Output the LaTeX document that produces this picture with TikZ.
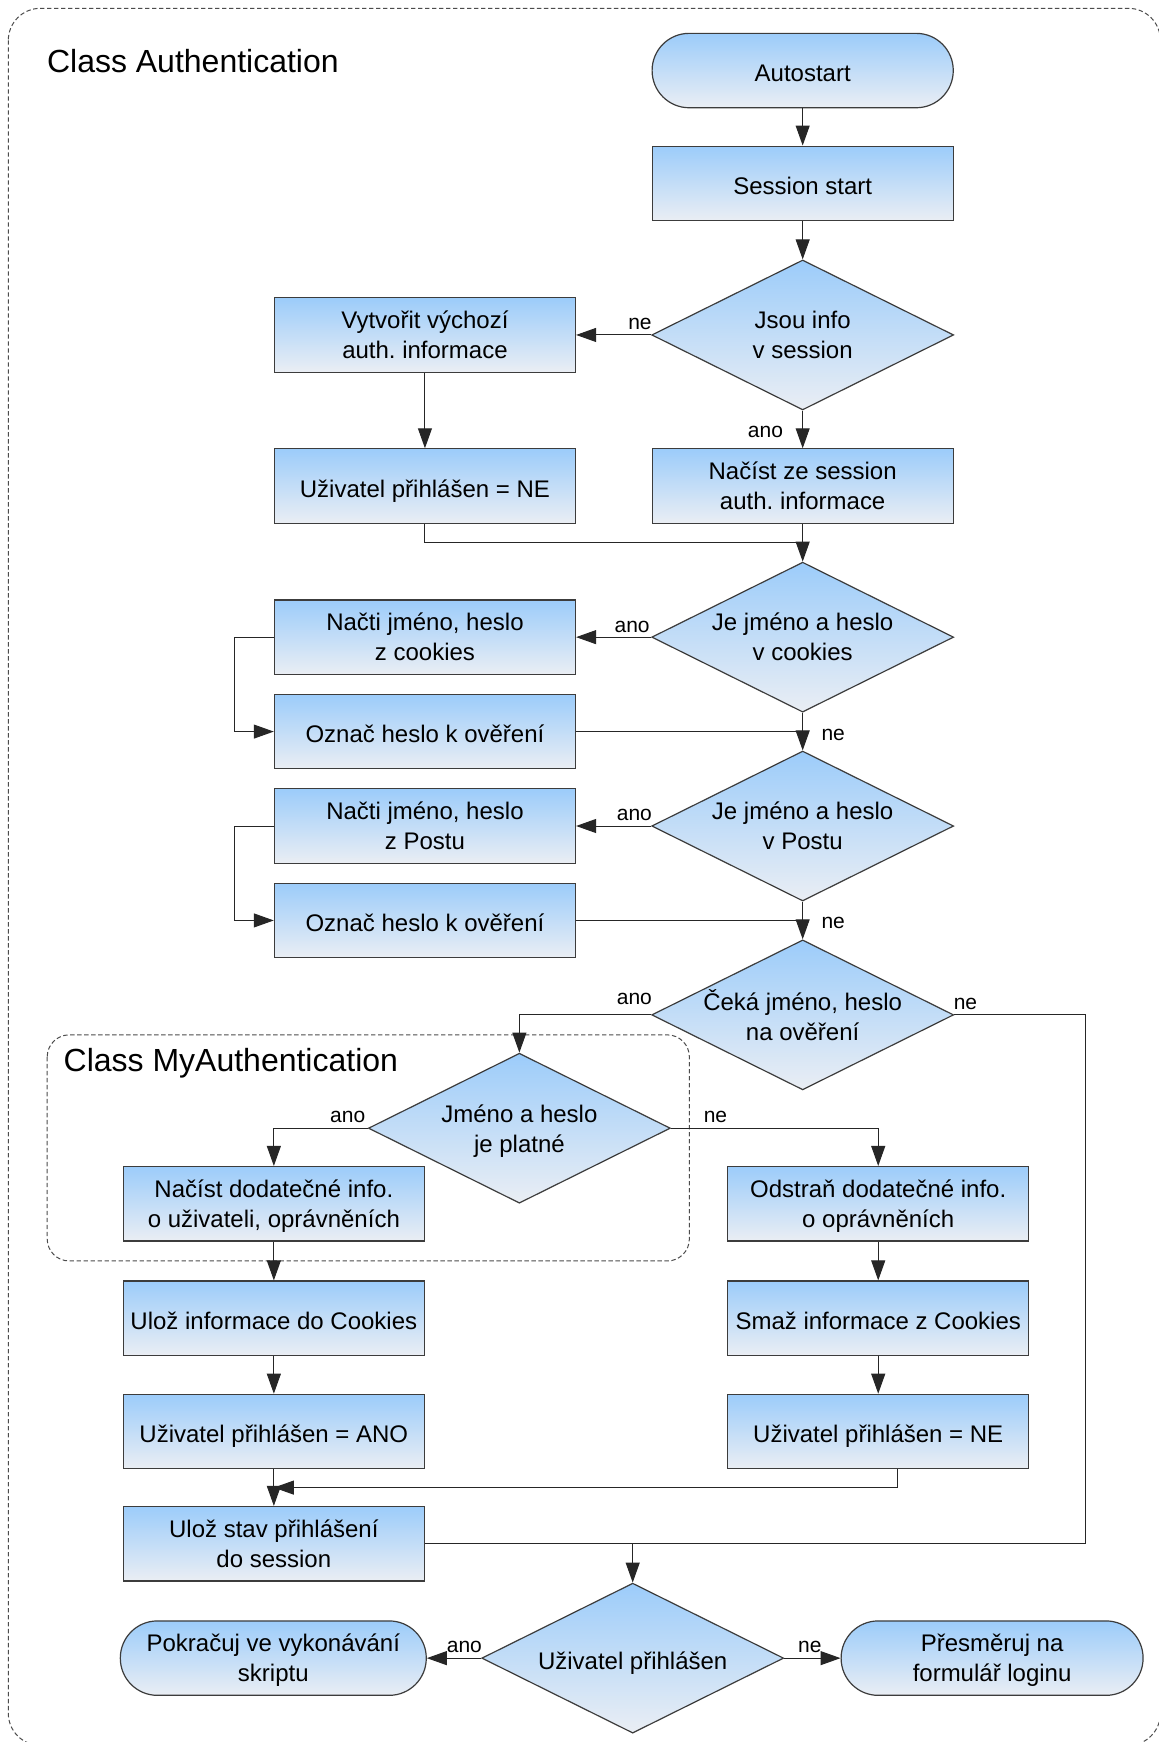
\documentclass[tikz,border=0pt]{standalone}
\usepackage{fontspec}
\setmainfont{Liberation Sans}
\usetikzlibrary{shapes.geometric,arrows.meta,calc}

\definecolor{boxtop}{RGB}{156,204,250}
\definecolor{boxbot}{RGB}{234,238,244}
\definecolor{edge}{RGB}{60,60,60}

\newcommand\mainsz{\fontsize{12pt}{15pt}\selectfont\frenchspacing}
\newcommand\lblsz{\fontsize{10.5pt}{12pt}\selectfont}
\newcommand\titlesz{\fontsize{16pt}{19pt}\selectfont}
% fixed first-line height so every text block sits on the same optical centre
\newcommand\topstrut{\rule{0pt}{11pt}}

\begin{document}
\begin{tikzpicture}[x=0.5556pt,y=-0.5556pt,
  txtpos/.style={execute at begin node=\topstrut, text depth=0pt},
  box/.style={rectangle, draw=edge, line width=0.6pt, top color=boxtop, bottom color=boxbot,
    minimum width=150.6pt, minimum height=37.2pt, inner sep=0pt, align=center, font=\mainsz, txtpos},
  term/.style={box, rounded corners=18.5pt},
  dec/.style={diamond, draw=edge, line width=0.6pt, top color=boxtop, bottom color=boxbot,
    minimum width=151pt, minimum height=75pt, inner sep=0pt},
  dtxt/.style={align=center, font=\mainsz, inner sep=0pt, txtpos},
  lbl/.style={font=\lblsz, inner sep=0pt},
  title/.style={font=\titlesz, inner sep=0pt, anchor=west},
  conn/.style={draw=black!85, line width=0.5pt},
  arr/.style={conn, -{Triangle[length=10pt,width=7pt]}},
  frame/.style={draw=black!70, line width=0.5pt, dash pattern=on 2.2pt off 1.3pt}
]
\useasboundingbox (0,0) rectangle (1043,1568);
\fill[white] (0,0) rectangle (1043,1568);

% class frames
\draw[frame, rounded corners=16pt] (7.5,7.5) rectangle (1044.5,1571);
\draw[frame, rounded corners=11pt] (42.5,931.5) rectangle (620.5,1135);
\node[title] (t1) at (42,55) {Class Authentication};
\node[title] (t2) at (57,957) {Class MyAuthentication};

% main column
\node[term] (auto) at (722.5,63.5) {Autostart};
\node[box] (sess) at (722.5,165) {Session start};
\node[dec] (d1) at (722.5,301.5) {};
\node[dtxt] (d1t) at (d1) {Jsou info\\v session};
\node[box] (vyt) at (382.5,301.5) {Vytvořit výchozí\\auth. informace};
\node[box] (uzne1) at (382.5,437.5) {Uživatel přihlášen = NE};
\node[box] (nacist) at (722.5,437.5) {Načíst ze session\\auth. informace};

\node[dec] (d2) at (722.5,573.5) {};
\node[dtxt] (d2t) at (d2) {Je jméno a heslo\\v cookies};
\node[box] (nacti1) at (382.5,573.5) {Načti jméno, heslo\\z cookies};
\node[box] (oznac1) at (382.5,658.5) {Označ heslo k ověření};

\node[dec] (d3) at (722.5,743.5) {};
\node[dtxt] (d3t) at (d3) {Je jméno a heslo\\v Postu};
\node[box] (nacti2) at (382.5,743.5) {Načti jméno, heslo\\z Postu};
\node[box] (oznac2) at (382.5,828.5) {Označ heslo k ověření};

\node[dec] (d4) at (722.5,913.5) {};
\node[dtxt] (d4t) at (d4) {Čeká jméno, heslo\\na ověření};

% credential check
\node[dec] (d5) at (467.5,1015.5) {};
\node[dtxt] (d5t) at (d5) {Jméno a heslo\\je platné};
\node[box] (nacdod) at (246.5,1083.5) {Načíst dodatečné info.\\o uživateli, oprávněních};
\node[box] (odstr) at (790.5,1083.5) {Odstraň dodatečné info.\\o oprávněních};
\node[box] (uloz1) at (246.5,1186.5) {Ulož informace do Cookies};
\node[box] (smaz) at (790.5,1186.5) {Smaž informace z Cookies};
\node[box] (uzano) at (246.5,1288.5) {Uživatel přihlášen = ANO};
\node[box] (uzne2) at (790.5,1288.5) {Uživatel přihlášen = NE};
\node[box] (ulozstav) at (246.5,1389.5) {Ulož stav přihlášení\\do session};

% final decision
\node[dec] (d6) at (569.5,1492.5) {};
\node[dtxt] (d6t) at (d6) {Uživatel přihlášen};
\node[term, minimum width=153pt] (pokr) at (246,1492.5) {Pokračuj ve vykonávání\\skriptu};
\node[term, minimum width=151pt] (presm) at (893,1492.5) {Přesměruj na\\formulář loginu};

% branch labels
\node[lbl] (l1) at (576,291.5) {ne};
\node[lbl] (l2) at (689,388.5) {ano};
\node[lbl] (l3) at (569,564.5) {ano};
\node[lbl] (l4) at (750,661.5) {ne};
\node[lbl] (l5) at (571,733.5) {ano};
\node[lbl] (l6) at (750,830.5) {ne};
\node[lbl] (l7) at (571,899.5) {ano};
\node[lbl] (l8) at (869,903.5) {ne};
\node[lbl] (l9) at (313,1005.5) {ano};
\node[lbl] (l10) at (644,1005.5) {ne};
\node[lbl] (l11) at (418,1482) {ano};
\node[lbl] (l12) at (729,1482) {ne};

% connectors
\draw[arr] (auto.south) -- (sess.north);
\draw[arr] (sess.south) -- (d1.north);
\draw[arr] (d1.west) -- (vyt.east);
\draw[arr] (d1.south) -- (nacist.north);
\draw[arr] (vyt.south) -- (uzne1.north);
\coordinate (j1) at ($(nacist.south)!0.5!(d2.north)$);
\draw[conn] (uzne1.south) |- (j1);
\draw[arr] (nacist.south) -- (d2.north);

\draw[arr] (d2.west) -- (nacti1.east);
\draw[arr] (nacti1.west) -- ++(-35,0) |- (oznac1.west);
\draw[arr] (d2.south) -- (d3.north);
\draw[conn] (oznac1.east) -- (oznac1.east -| d2.south);

\draw[arr] (d3.west) -- (nacti2.east);
\draw[arr] (nacti2.west) -- ++(-35,0) |- (oznac2.west);
\draw[arr] (d3.south) -- (d4.north);
\draw[conn] (oznac2.east) -- (oznac2.east -| d3.south);

\draw[arr] (d4.west) -| (d5.north);
\coordinate (j5) at (d6.north |- ulozstav.east);
\coordinate (rr) at (977,0);
\draw[conn] (d4.east) -| (rr |- j5) -- (j5);

\draw[arr] (d5.west) -| (nacdod.north);
\draw[arr] (d5.east) -| (odstr.north);
\draw[arr] (nacdod.south) -- (uloz1.north);
\draw[arr] (odstr.south) -- (smaz.north);
\draw[arr] (uloz1.south) -- (uzano.north);
\draw[arr] (smaz.south) -- (uzne2.north);
\draw[arr] (uzano.south) -- (ulozstav.north);
\coordinate (j6) at ($(uzano.south)!0.5!(ulozstav.north)$);
\draw[arr] ($(uzne2.south)+(17,0)$) |- (j6);
\draw[arr] (ulozstav.east) -| (d6.north);
\draw[arr] (d6.west) -- (pokr.east);
\draw[arr] (d6.east) -- (presm.west);
\end{tikzpicture}
\end{document}
